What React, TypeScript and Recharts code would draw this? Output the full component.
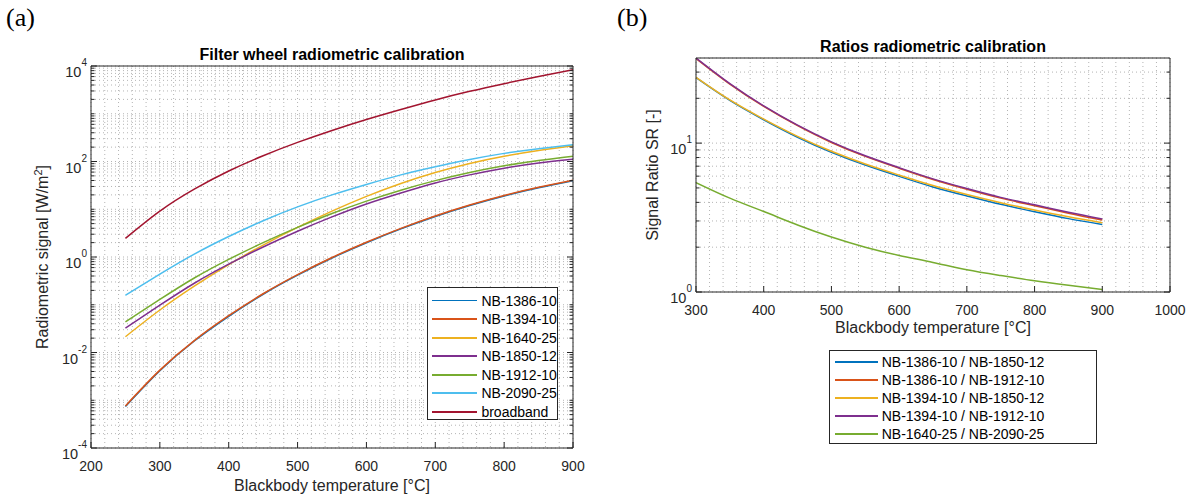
import React from "react";
import { LineChart, Line, XAxis, YAxis, CartesianGrid, Legend } from "recharts";

const AXIS = "#262626";
const GRID = "#b4b4b4";
const FONT = '"Liberation Sans", Arial, Helvetica, sans-serif';

// (a) filter wheel radiometric calibration, W/m2 vs blackbody temperature
const tempsA = [250, 300, 350, 400, 450, 500, 550, 600, 650, 700, 750, 800, 850, 900];
const nb1386 = [7.4e-4, 4.16e-3, 0.0174, 0.0574, 0.166, 0.416, 0.953, 1.99, 3.88, 7.06, 12.0, 19.0, 28.1, 39.7];
const nb1394 = [7.6e-4, 4.27e-3, 0.0178, 0.0589, 0.17, 0.427, 0.977, 2.04, 3.98, 7.24, 12.3, 19.5, 28.8, 40.7];
const nb1640 = [0.0214, 0.0776, 0.245, 0.692, 1.78, 4.17, 9.12, 18.6, 34.7, 58.9, 91.2, 129, 170, 214];
const nb1850 = [0.0324, 0.0977, 0.282, 0.708, 1.62, 3.47, 6.92, 12.9, 21.9, 35.5, 52.5, 72.4, 93.3, 112];
const nb1912 = [0.0437, 0.129, 0.363, 0.891, 2.0, 4.17, 8.13, 14.8, 25.1, 39.8, 58.9, 81.3, 105, 129];
const nb2090 = [0.158, 0.437, 1.15, 2.69, 5.75, 11.2, 20.0, 33.1, 52.5, 77.6, 110, 148, 186, 224];
const broadband = [2.45, 9.12, 26.3, 63.1, 132, 251, 447, 759, 1230, 1950, 2950, 4270, 6030, 8320];

// (b) signal ratios
const tempsB = [300, 350, 400, 450, 500, 550, 600, 650, 700, 750, 800, 850, 900];
const r1386_1850 = [27.5, 19.35, 14.35, 10.95, 8.68, 7.12, 5.98, 5.08, 4.42, 3.88, 3.46, 3.11, 2.84];
const r1386_1912 = [37.0, 24.9, 17.65, 13.1, 10.1, 8.15, 6.78, 5.7, 4.9, 4.27, 3.8, 3.38, 3.04];
const r1394_1850 = [27.7, 19.5, 14.5, 11.1, 8.81, 7.24, 6.1, 5.19, 4.52, 3.98, 3.55, 3.2, 2.92];
const r1394_1912 = [37.3, 25.1, 17.8, 13.2, 10.2, 8.22, 6.84, 5.75, 4.95, 4.32, 3.85, 3.43, 3.09];
const r1640_2090 = [5.43, 4.27, 3.47, 2.82, 2.34, 2.0, 1.76, 1.58, 1.41, 1.29, 1.19, 1.11, 1.04];

const seriesA = [
  { key: "a1386", name: "NB-1386-10", color: "#0072BD", values: nb1386 },
  { key: "a1394", name: "NB-1394-10", color: "#D95319", values: nb1394 },
  { key: "a1640", name: "NB-1640-25", color: "#EDB120", values: nb1640 },
  { key: "a1850", name: "NB-1850-12", color: "#7E2F8E", values: nb1850 },
  { key: "a1912", name: "NB-1912-10", color: "#77AC30", values: nb1912 },
  { key: "a2090", name: "NB-2090-25", color: "#4DBEEE", values: nb2090 },
  { key: "abb", name: "broadband", color: "#A2142F", values: broadband },
];

const seriesB = [
  { key: "b1", name: "NB-1386-10 / NB-1850-12", color: "#0072BD", values: r1386_1850 },
  { key: "b2", name: "NB-1386-10 / NB-1912-10", color: "#D95319", values: r1386_1912 },
  { key: "b3", name: "NB-1394-10 / NB-1850-12", color: "#EDB120", values: r1394_1850 },
  { key: "b4", name: "NB-1394-10 / NB-1912-10", color: "#7E2F8E", values: r1394_1912 },
  { key: "b5", name: "NB-1640-25 / NB-2090-25", color: "#77AC30", values: r1640_2090 },
];

const xMajorA = [200, 300, 400, 500, 600, 700, 800, 900];
const xMajorB = [300, 400, 500, 600, 700, 800, 900, 1000];
const yMajorA = [1e-4, 1e-2, 1, 1e2, 1e4];
const yMajorB = [1, 10];

const range = (a: number, b: number, step: number) => {
  const out: number[] = [];
  for (let v = a; v <= b + 1e-9; v += step) out.push(v);
  return out;
};
const logTicks = (lo: number, hi: number) => {
  const out: number[] = [];
  for (let e = lo; e < hi; e++) for (let m = 1; m < 10; m++) out.push(Number((m * Math.pow(10, e)).toPrecision(6)));
  out.push(Math.pow(10, hi));
  return out;
};
const inList = (list: number[], v: number) => list.some((m) => Math.abs(m - v) <= 1e-9 * Math.max(1, Math.abs(m)) || Math.abs(Math.log10(m / v)) < 1e-6);

const xGridA = range(200, 900, 20);
const xGridB = range(300, 1000, 20);
const yTicksA = logTicks(-4, 4);
const yTicksB = [...logTicks(0, 1), 20, 30];

const toRows = (temps: number[], series: { key: string; values: number[] }[]) =>
  temps.map((t, i) => {
    const row: Record<string, number> = { t };
    series.forEach((s) => (row[s.key] = s.values[i]));
    return row;
  });

const rowsA = toRows(tempsA, seriesA);
const rowsB = toRows(tempsB, seriesB);

const XTick = (majors: number[]) => (p: any) => {
  const v = p.payload.value;
  if (!majors.includes(v)) return <g />;
  return (
    <g>
      <line x1={p.x} x2={p.x} y1={p.y} y2={p.y - 6} stroke={AXIS} />
      <text x={p.x} y={p.y + 23} textAnchor="middle" fontSize={14} fill={AXIS} fontFamily={FONT}>
        {v}
      </text>
    </g>
  );
};

const TopTick = (majors: number[]) => (p: any) =>
  majors.includes(p.payload.value) ? <line x1={p.x} x2={p.x} y1={p.y} y2={p.y + 6} stroke={AXIS} /> : <g />;

const YTick = (majors: number[]) => (p: any) => {
  const v = p.payload.value;
  const major = inList(majors, v);
  const exp = Math.round(Math.log10(v));
  return (
    <g>
      <line x1={p.x} x2={p.x + (major ? 6 : 3.5)} y1={p.y} y2={p.y} stroke={AXIS} />
      {major && (
        <text x={p.x - 4} y={p.y + 11} textAnchor="end" fontSize={14.5} fill={AXIS} fontFamily={FONT}>
          10
          <tspan dy={-11} fontSize={10}>
            {exp}
          </tspan>
        </text>
      )}
    </g>
  );
};

const RightTick = (majors: number[]) => (p: any) => {
  const major = inList(majors, p.payload.value);
  return <line x1={p.x} x2={p.x - (major ? 6 : 3.5)} y1={p.y} y2={p.y} stroke={AXIS} />;
};

function LegendBox(props: any) {
  const { payload, w, h, first, step, l1, l2, tx } = props;
  return (
    <div
      style={{
        position: "relative",
        width: w,
        height: h,
        boxSizing: "border-box",
        border: `1px solid ${AXIS}`,
        background: "#fff",
        fontFamily: FONT,
        fontSize: 14,
        color: "#000",
      }}
    >
      {(payload || []).map((it: any, i: number) => (
        <div key={it.value} style={{ position: "absolute", left: 0, top: first + i * step - 9, height: 18, width: "100%" }}>
          <div style={{ position: "absolute", left: l1, width: l2 - l1, top: 8, height: 1.8, background: it.color }} />
          <div style={{ position: "absolute", left: tx, top: 0, lineHeight: "18px", whiteSpace: "nowrap" }}>{it.value}</div>
        </div>
      ))}
    </div>
  );
}

const axisCommon = {
  interval: 0 as const,
  allowDataOverflow: true,
  tickSize: 0,
  tickMargin: 0,
  tickLine: false,
  axisLine: { stroke: AXIS },
};

export default function App() {
  const serif = '"Liberation Serif", "Times New Roman", serif';
  return (
    <div style={{ position: "fixed", left: 0, top: 0, width: 1194, height: 502, background: "#fff" }}>
      <div style={{ position: "absolute", left: 0, top: 0 }}>
        <LineChart width={600} height={502} data={rowsA} margin={{ top: 65, right: 26, bottom: 53, left: 90 }}>
          <CartesianGrid stroke={GRID} strokeDasharray="1 3" />
          {seriesA.map((s) => (
            <Line
              key={s.key}
              type="natural"
              dataKey={s.key}
              name={s.name}
              stroke={s.color}
              strokeWidth={1.5}
              dot={false}
              isAnimationActive={false}
            />
          ))}
          <XAxis dataKey="t" type="number" domain={[200, 900]} ticks={xGridA} height={1} tick={XTick(xMajorA)} {...axisCommon} />
          <XAxis
            xAxisId="top"
            orientation="top"
            type="number"
            domain={[200, 900]}
            ticks={xMajorA}
            height={1}
            tick={TopTick(xMajorA)}
            {...axisCommon}
          />
          <YAxis scale="log" type="number" domain={[1e-4, 1e4]} ticks={yTicksA} width={1} tick={YTick(yMajorA)} {...axisCommon} />
          <YAxis
            yAxisId="right"
            orientation="right"
            scale="log"
            type="number"
            domain={[1e-4, 1e4]}
            ticks={yTicksA}
            width={1}
            tick={RightTick(yMajorA)}
            {...axisCommon}
          />
          <Legend
            layout="vertical"
            align="center"
            verticalAlign="middle"
            wrapperStyle={{ left: 427, top: 287, width: 131, height: 133 }}
            content={(p: any) => (
              <LegendBox payload={p.payload} w={131} h={133} first={12.6} step={18.57} l1={4.4} l2={48.7} tx={53.4} />
            )}
          />
        </LineChart>
      </div>

      <div style={{ position: "absolute", left: 600, top: 0 }}>
        <LineChart width={594} height={502} data={rowsB} margin={{ top: 57, right: 23, bottom: 209, left: 95 }}>
          <CartesianGrid stroke={GRID} strokeDasharray="1 3" />
          {seriesB.map((s) => (
            <Line
              key={s.key}
              type="natural"
              dataKey={s.key}
              name={s.name}
              stroke={s.color}
              strokeWidth={1.5}
              dot={false}
              isAnimationActive={false}
            />
          ))}
          <XAxis dataKey="t" type="number" domain={[300, 1000]} ticks={xGridB} height={1} tick={XTick(xMajorB)} {...axisCommon} />
          <XAxis
            xAxisId="top"
            orientation="top"
            type="number"
            domain={[300, 1000]}
            ticks={xMajorB}
            height={1}
            tick={TopTick(xMajorB)}
            {...axisCommon}
          />
          <YAxis scale="log" type="number" domain={[1, 37.3]} ticks={yTicksB} width={1} tick={YTick(yMajorB)} {...axisCommon} />
          <YAxis
            yAxisId="right"
            orientation="right"
            scale="log"
            type="number"
            domain={[1, 37.3]}
            ticks={yTicksB}
            width={1}
            tick={RightTick(yMajorB)}
            {...axisCommon}
          />
          <Legend
            layout="vertical"
            align="center"
            verticalAlign="middle"
            wrapperStyle={{ left: 229, top: 350, width: 268, height: 94 }}
            content={(p: any) => (
              <LegendBox payload={p.payload} w={268} h={94} first={11} step={18.1} l1={5} l2={48} tx={51.7} />
            )}
          />
        </LineChart>
      </div>

      <svg
        width={1194}
        height={502}
        style={{ position: "absolute", left: 0, top: 0, pointerEvents: "none" }}
        fontFamily={FONT}
      >
        <text x={6} y={26} fontFamily={serif} fontSize={26} fill="#000">
          (a)
        </text>
        <text x={617} y={26} fontFamily={serif} fontSize={26} fill="#000">
          (b)
        </text>
        <text x={332} y={60} textAnchor="middle" fontSize={16} fontWeight="bold" fill="#000">
          Filter wheel radiometric calibration
        </text>
        <text x={933} y={52} textAnchor="middle" fontSize={16} fontWeight="bold" fill="#000">
          Ratios radiometric calibration
        </text>
        <text x={332} y={491} textAnchor="middle" fontSize={16} fill={AXIS}>
          Blackbody temperature [°C]
        </text>
        <text x={933} y={333} textAnchor="middle" fontSize={16} fill={AXIS}>
          Blackbody temperature [°C]
        </text>
        <text x={48} y={257} textAnchor="middle" fontSize={16} fill={AXIS} transform="rotate(-90 48 257)">
          Radiometric signal [W/m
          <tspan dy={-6} fontSize={11}>
            2
          </tspan>
          <tspan dy={6}>]</tspan>
        </text>
        <text x={658} y={175} textAnchor="middle" fontSize={16} fill={AXIS} transform="rotate(-90 658 175)">
          Signal Ratio SR [-]
        </text>
      </svg>
    </div>
  );
}
